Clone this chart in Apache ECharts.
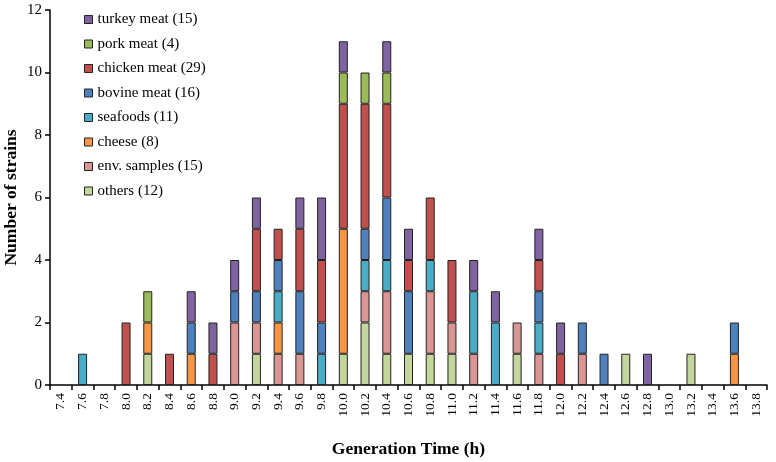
<!DOCTYPE html>
<html><head><meta charset="utf-8">
<script src="https://cdn.jsdelivr.net/npm/echarts@6/dist/echarts.min.js"></script>
<style>html,body{margin:0;padding:0;background:#fff}#c{width:776px;height:462px}</style>
</head><body><div id="c"></div>
<script>
const categories = ['7.4','7.6','7.8','8.0','8.2','8.4','8.6','8.8','9.0','9.2','9.4','9.6','9.8','10.0','10.2','10.4','10.6','10.8','11.0','11.2','11.4','11.6','11.8','12.0','12.2','12.4','12.6','12.8','13.0','13.2','13.4','13.6','13.8'];
const others   = [0,0,0,0,1, 0,0,0,0,1, 0,0,0,1,2, 1,1,1,1,0, 0,1,0,0,0, 0,1,0,0,1, 0,0,0];
const envSamples = [0,0,0,0,0, 0,0,0,2,1, 1,1,0,0,1, 2,0,2,1,1, 0,1,1,0,1, 0,0,0,0,0, 0,0,0];
const cheese   = [0,0,0,0,1, 0,1,0,0,0, 1,0,0,4,0, 0,0,0,0,0, 0,0,0,0,0, 0,0,0,0,0, 0,1,0];
const seafoods = [0,1,0,0,0, 0,0,0,0,0, 1,0,1,0,1, 1,0,1,0,2, 2,0,1,0,0, 0,0,0,0,0, 0,0,0];
const bovine   = [0,0,0,0,0, 0,1,0,1,1, 1,2,1,0,1, 2,2,0,0,0, 0,0,1,0,1, 1,0,0,0,0, 0,1,0];
const chicken  = [0,0,0,2,0, 1,0,1,0,2, 1,2,2,4,4, 3,1,2,2,0, 0,0,1,1,0, 0,0,0,0,0, 0,0,0];
const pork     = [0,0,0,0,1, 0,0,0,0,0, 0,0,0,1,1, 1,0,0,0,0, 0,0,0,0,0, 0,0,0,0,0, 0,0,0];
const turkey   = [0,0,0,0,0, 0,1,1,1,1, 0,1,2,1,0, 1,1,0,0,1, 1,0,1,1,0, 0,0,1,0,0, 0,0,0];
const yTicks = {min:0, max:12, interval:2};

const font = 'Liberation Serif';
const seriesDefs = [
  ['others (12)', others, '#C3D69B'],
  ['env. samples (15)', envSamples, '#D99694'],
  ['cheese (8)', cheese, '#F79646'],
  ['seafoods (11)', seafoods, '#4BACC6'],
  ['bovine meat (16)', bovine, '#4F81BD'],
  ['chicken meat (29)', chicken, '#C0504D'],
  ['pork meat (4)', pork, '#9BBB59'],
  ['turkey meat (15)', turkey, '#8064A2']
];
const chart = echarts.init(document.getElementById('c'), null, {renderer:'canvas'});
chart.setOption({
  animation:false,
  textStyle:{fontFamily:font},
  grid:{left:50,right:9,top:10,bottom:77,containLabel:false,outerBoundsMode:'none'},
  legend:{
    orient:'vertical', left:84, top:12, padding:0, itemWidth:8, itemHeight:8, itemGap:9.5,
    icon:'rect',
    data: seriesDefs.map(s=>s[0]).reverse(),
    textStyle:{fontFamily:font,fontSize:15,color:'#000'},
    itemStyle:{borderColor:'#222',borderWidth:1}
  },
  xAxis:{
    type:'category', data:categories,
    name:'Generation Time (h)', nameLocation:'middle', nameGap:55,
    nameTextStyle:{fontFamily:font,fontSize:17.5,fontWeight:'bold',color:'#000'},
    axisLine:{lineStyle:{color:'#000',width:1.5}},
    axisTick:{show:true,length:5,lineStyle:{color:'#000',width:1.5}},
    axisLabel:{rotate:90,fontFamily:font,fontSize:13.5,color:'#000',margin:8,interval:0}
  },
  yAxis:{
    type:'value', min:yTicks.min, max:yTicks.max, interval:yTicks.interval,
    name:'Number of strains', nameLocation:'middle', nameGap:30, nameMoveOverlap:false,
    nameTextStyle:{fontFamily:font,fontSize:17.5,fontWeight:'bold',color:'#000'},
    axisLine:{show:true,lineStyle:{color:'#000',width:1.5}},
    axisTick:{show:true,length:5,lineStyle:{color:'#000',width:1.5}},
    splitLine:{show:false},
    axisLabel:{fontFamily:font,fontSize:15,color:'#000',margin:8}
  },
  series: seriesDefs.map(([name,vals,color])=>({
    name, type:'bar', stack:'all', barWidth:9,
    data: vals.map(v=> v===0 ? null : v),
    itemStyle:{color, borderColor:'#222', borderWidth:1}
  }))
});
</script></body></html>
